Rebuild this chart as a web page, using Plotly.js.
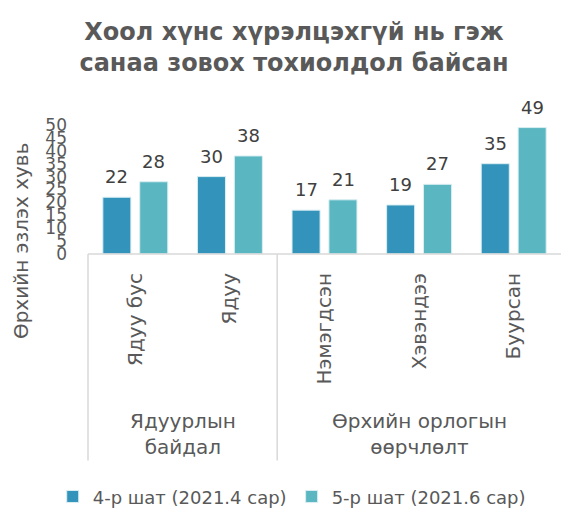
<!DOCTYPE html>
<html><head><meta charset="utf-8">
<script src="https://cdn.plot.ly/plotly-3.0.1.min.js"></script>
<style>html,body{margin:0;padding:0;background:#fff}#chart{width:561px;height:509px}</style>
</head><body><div id="chart"></div>
<script>
const categories = ["Ядуу бус", "Ядуу", "Нэмэгдсэн", "Хэвэндээ", "Буурсан"];
const groupLabels = ["Ядуурлын<br>байдал", "Өрхийн орлогын<br>өөрчлөлт"];
const groupSizes = [2, 3];
const seriesNames = ["4-р шат (2021.4 сар)", "5-р шат (2021.6 сар)"];
const wave4 = [22, 30, 17, 19, 35];
const wave5 = [28, 38, 21, 27, 49];
const yTicks = [0, 5, 10, 15, 20, 25, 30, 35, 40, 45, 50];

const FONT = "DejaVu Sans, Open Sans, sans-serif";
const GREY = "#595959";
const colors = ["#3493BA", "#5AB6C1"];
const series = [wave4, wave5];

const traces = series.map((vals, i) => ({
  type: "bar", name: seriesNames[i], x: categories, y: vals,
  marker: {color: colors[i], line: {color: "#d9eef2", width: 1}}
}));

const shapes = [];
const annotations = [];
const n = categories.length;
// value labels above bars
series.forEach((vals, si) => {
  vals.forEach((v, ci) => {
    annotations.push({xref: "x", yref: "y", x: categories[ci], y: v, xshift: si === 0 ? -18.5 : 18.5,
      yanchor: "bottom", yshift: 8, text: String(v), showarrow: false,
      font: {family: FONT, size: 18, color: "#404040"}});
  });
});
let start = 0;
const lineCol = "#d9d9d9";
shapes.push({type: "line", xref: "paper", yref: "paper", x0: 0, x1: 1, y0: 0, y1: 0, line: {color: lineCol, width: 1.5}});
groupSizes.forEach((sz, gi) => {
  shapes.push({type: "line", xref: "paper", yref: "paper", x0: start / n, x1: start / n, y0: 0, y1: -1.6, line: {color: lineCol, width: 1.5}});
  annotations.push({xref: "paper", yref: "paper", x: (start + sz / 2) / n, xanchor: "center", y: -1.395, text: groupLabels[gi], showarrow: false,
    font: {family: FONT, size: 20, color: GREY}, align: "center", yanchor: "middle"});
  start += sz;
});
annotations.push({xref: "paper", yref: "paper", x: -67 / 473, xanchor: "center", y: 0.1, yanchor: "middle",
  text: "Өрхийн эзлэх хувь", textangle: -90, showarrow: false, font: {family: FONT, size: 20, color: GREY}});

const layout = {
  width: 561, height: 509,
  margin: {l: 88, r: 0, t: 125, b: 255},
  paper_bgcolor: "#fff", plot_bgcolor: "#fff",
  title: {text: "Хоол хүнс хүрэлцэхгүй нь гэж<br>санаа зовох тохиолдол байсан", x: 0.524, xanchor: "center", y: 0.922, yanchor: "middle",
    font: {family: FONT, size: 24, color: GREY, weight: "bold"}},
  barmode: "group", bargap: 0.22, bargroupgap: 0.24,
  xaxis: {type: "category", tickangle: -90, ticks: "", showline: false, showgrid: false, zeroline: false,
    tickfont: {family: FONT, size: 20, color: GREY}, ticklabelstandoff: 14, automargin: false},
  yaxis: {range: [0, 50], tickvals: yTicks, ticktext: yTicks.map(String), showgrid: false, zeroline: false, showline: false, ticks: "",
    tickfont: {family: FONT, size: 17, color: GREY}, ticklabelstandoff: 20, automargin: false},
  showlegend: true,
  legend: {orientation: "h", xref: "container", yref: "container", x: 0.52, xanchor: "center", y: 0.024, yanchor: "middle",
    font: {family: FONT, size: 18, color: GREY}, itemwidth: 30},
  shapes: shapes, annotations: annotations
};
Plotly.newPlot("chart", traces, layout, {displayModeBar: false, staticPlot: true});
</script></body></html>
